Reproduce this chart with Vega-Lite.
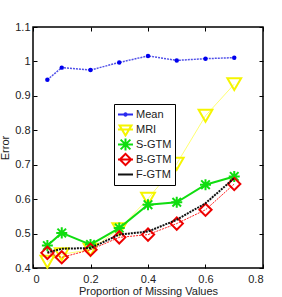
{
  "$schema": "https://vega.github.io/schema/vega-lite/v6.json",
  "autosize": "none",
  "width": 230,
  "height": 241,
  "padding": {"left": 33, "top": 27, "right": 19, "bottom": 29},
  "background": "white",
  "config": {
    "view": {"stroke": "black", "strokeWidth": 1.5},
    "font": "Liberation Sans",
    "axis": {
      "grid": false,
      "domain": false,
      "tickColor": "black",
      "tickSize": -4,
      "tickWidth": 1,
      "labelFont": "Liberation Sans",
      "labelFontSize": 11,
      "labelColor": "#222",
      "titleFont": "Liberation Sans",
      "titleFontSize": 11,
      "titleFontWeight": "normal",
      "titleColor": "#222"
    }
  },
  "data": {
    "values": [
      {"x": 0.05, "y": 0.947, "s": "Mean"},
      {"x": 0.1, "y": 0.982, "s": "Mean"},
      {"x": 0.2, "y": 0.975, "s": "Mean"},
      {"x": 0.3, "y": 0.997, "s": "Mean"},
      {"x": 0.4, "y": 1.016, "s": "Mean"},
      {"x": 0.5, "y": 1.003, "s": "Mean"},
      {"x": 0.6, "y": 1.008, "s": "Mean"},
      {"x": 0.7, "y": 1.011, "s": "Mean"},
      {"x": 0.05, "y": 0.418, "s": "MRI"},
      {"x": 0.1, "y": 0.44, "s": "MRI"},
      {"x": 0.2, "y": 0.453, "s": "MRI"},
      {"x": 0.3, "y": 0.513, "s": "MRI"},
      {"x": 0.4, "y": 0.601, "s": "MRI"},
      {"x": 0.5, "y": 0.703, "s": "MRI"},
      {"x": 0.6, "y": 0.842, "s": "MRI"},
      {"x": 0.7, "y": 0.934, "s": "MRI"},
      {"x": 0.05, "y": 0.465, "s": "S-GTM"},
      {"x": 0.1, "y": 0.502, "s": "S-GTM"},
      {"x": 0.2, "y": 0.468, "s": "S-GTM"},
      {"x": 0.3, "y": 0.516, "s": "S-GTM"},
      {"x": 0.4, "y": 0.584, "s": "S-GTM"},
      {"x": 0.5, "y": 0.591, "s": "S-GTM"},
      {"x": 0.6, "y": 0.642, "s": "S-GTM"},
      {"x": 0.7, "y": 0.666, "s": "S-GTM"},
      {"x": 0.05, "y": 0.444, "s": "B-GTM"},
      {"x": 0.1, "y": 0.431, "s": "B-GTM"},
      {"x": 0.2, "y": 0.453, "s": "B-GTM"},
      {"x": 0.3, "y": 0.489, "s": "B-GTM"},
      {"x": 0.4, "y": 0.497, "s": "B-GTM"},
      {"x": 0.5, "y": 0.529, "s": "B-GTM"},
      {"x": 0.6, "y": 0.569, "s": "B-GTM"},
      {"x": 0.7, "y": 0.644, "s": "B-GTM"},
      {"x": 0.05, "y": 0.445, "s": "F-GTM"},
      {"x": 0.1, "y": 0.456, "s": "F-GTM"},
      {"x": 0.2, "y": 0.458, "s": "F-GTM"},
      {"x": 0.3, "y": 0.497, "s": "F-GTM"},
      {"x": 0.4, "y": 0.506, "s": "F-GTM"},
      {"x": 0.5, "y": 0.54, "s": "F-GTM"},
      {"x": 0.6, "y": 0.588, "s": "F-GTM"},
      {"x": 0.7, "y": 0.661, "s": "F-GTM"}
    ]
  },
  "resolve": {"axis": {"x": "independent", "y": "independent"}},
  "layer": [
    {
      "transform": [{"filter": "datum.s === 'Mean'"}],
      "mark": {"type": "line", "stroke": "#5050e8", "strokeWidth": 1.5, "strokeDash": [2, 1]},
      "encoding": {
        "x": {"field": "x", "type": "quantitative", "scale": {"domain": [0, 0.8], "nice": false, "zero": false},
              "axis": {"orient": "bottom", "values": [0, 0.2, 0.4, 0.6, 0.8], "format": "~g", "labelPadding": 9, "title": "Proportion of Missing Values", "titlePadding": 1}},
        "y": {"field": "y", "type": "quantitative", "scale": {"domain": [0.4, 1.1], "nice": false, "zero": false},
              "axis": {"orient": "left", "values": [0.4, 0.5, 0.6, 0.7, 0.8, 0.9, 1, 1.1], "format": "~g", "labelPadding": 7, "title": "Error", "titlePadding": 4}}
      }
    },
    {
      "transform": [{"filter": "datum.s === 'Mean'"}],
      "mark": {"type": "point", "filled": true, "color": "#0000ee", "size": 20, "opacity": 1},
      "encoding": {
        "x": {"field": "x", "type": "quantitative", "axis": {"orient": "top", "values": [0, 0.2, 0.4, 0.6, 0.8], "labels": false, "title": null}},
        "y": {"field": "y", "type": "quantitative", "axis": {"orient": "right", "values": [0.4, 0.5, 0.6, 0.7, 0.8, 0.9, 1, 1.1], "labels": false, "title": null}}
      }
    },
    {
      "transform": [{"filter": "datum.s === 'MRI'"}],
      "mark": {"type": "line", "stroke": "#ffff70", "strokeWidth": 1},
      "encoding": {
        "x": {"field": "x", "type": "quantitative", "axis": null},
        "y": {"field": "y", "type": "quantitative", "axis": null}
      }
    },
    {
      "transform": [{"filter": "datum.s === 'MRI'"}],
      "mark": {"type": "point", "shape": "triangle-down", "filled": false, "stroke": "#f5f500", "strokeWidth": 2, "size": 190, "opacity": 1},
      "encoding": {
        "x": {"field": "x", "type": "quantitative", "axis": null},
        "y": {"field": "y", "type": "quantitative", "axis": null}
      }
    },
    {
      "transform": [{"filter": "datum.s === 'S-GTM'"}],
      "mark": {"type": "line", "stroke": "#10dd10", "strokeWidth": 2},
      "encoding": {
        "x": {"field": "x", "type": "quantitative", "axis": null},
        "y": {"field": "y", "type": "quantitative", "axis": null}
      }
    },
    {
      "transform": [{"filter": "datum.s === 'S-GTM'"}],
      "mark": {"type": "point", "shape": "M-0.7,-0.7L0.7,0.7M-0.7,0.7L0.7,-0.7M0,-0.9L0,0.9M-0.9,0L0.9,0", "filled": false, "stroke": "#10dd10", "strokeWidth": 2, "size": 150, "opacity": 1},
      "encoding": {
        "x": {"field": "x", "type": "quantitative", "axis": null},
        "y": {"field": "y", "type": "quantitative", "axis": null}
      }
    },
    {
      "transform": [{"filter": "datum.s === 'B-GTM'"}],
      "mark": {"type": "line", "stroke": "#ff2020", "strokeWidth": 1, "strokeDash": [2, 1]},
      "encoding": {
        "x": {"field": "x", "type": "quantitative", "axis": null},
        "y": {"field": "y", "type": "quantitative", "axis": null}
      }
    },
    {
      "transform": [{"filter": "datum.s === 'B-GTM'"}],
      "mark": {"type": "point", "shape": "diamond", "filled": false, "stroke": "#ee0000", "strokeWidth": 2, "size": 150, "opacity": 1},
      "encoding": {
        "x": {"field": "x", "type": "quantitative", "axis": null},
        "y": {"field": "y", "type": "quantitative", "axis": null}
      }
    },
    {
      "transform": [{"filter": "datum.s === 'F-GTM'"}],
      "mark": {"type": "line", "stroke": "#111", "strokeWidth": 2, "strokeDash": [2, 1]},
      "encoding": {
        "x": {"field": "x", "type": "quantitative", "axis": null},
        "y": {"field": "y", "type": "quantitative", "axis": null}
      }
    },
    {
      "transform": [{"filter": "datum.x === 0.7"}],
      "mark": {"type": "point", "filled": false, "opacity": 0},
      "encoding": {
        "color": {"field": "s", "type": "nominal",
                  "scale": {"domain": ["Mean", "MRI", "S-GTM", "B-GTM", "F-GTM"], "range": ["#2a2aee", "#f5f500", "#10dd10", "#ee0000", "#111111"]},
                  "legend": {"orient": "none", "legendX": 81, "legendY": 77, "title": null,
                             "strokeColor": "black", "fillColor": "white", "padding": 3,
                             "symbolSize": 225, "symbolStrokeWidth": 2, "symbolOpacity": 1,
                             "labelFont": "Liberation Sans", "labelFontSize": 11, "labelColor": "#222",
                             "labelOffset": 2, "rowPadding": 0, "clipHeight": 15, "symbolLimit": 0,
                             "encode": {"symbols": {"update": {"strokeDash": {"signal": "datum.value === 'Mean' || datum.value === 'F-GTM' ? [2, 1] : [1, 0]"}}}}}},
        "shape": {"field": "s", "type": "nominal",
                  "scale": {"domain": ["Mean", "MRI", "S-GTM", "B-GTM", "F-GTM"],
                            "range": [
                              "M-1,0L1,0M-0.16,0A0.16,0.16 0 1,0 0.16,0A0.16,0.16 0 1,0 -0.16,0",
                              "M-1,0L1,0M-0.8,-0.55L0.8,-0.55L0,0.8Z",
                              "M-1,0L1,0M-0.65,-0.65L0.65,0.65M-0.65,0.65L0.65,-0.65M0,-0.8L0,0.8",
                              "M-1,0L1,0M-0.75,0L0,-0.75L0.75,0L0,0.75Z",
                              "M-1,0L1,0"
                            ]}}
      }
    }
  ]
}
